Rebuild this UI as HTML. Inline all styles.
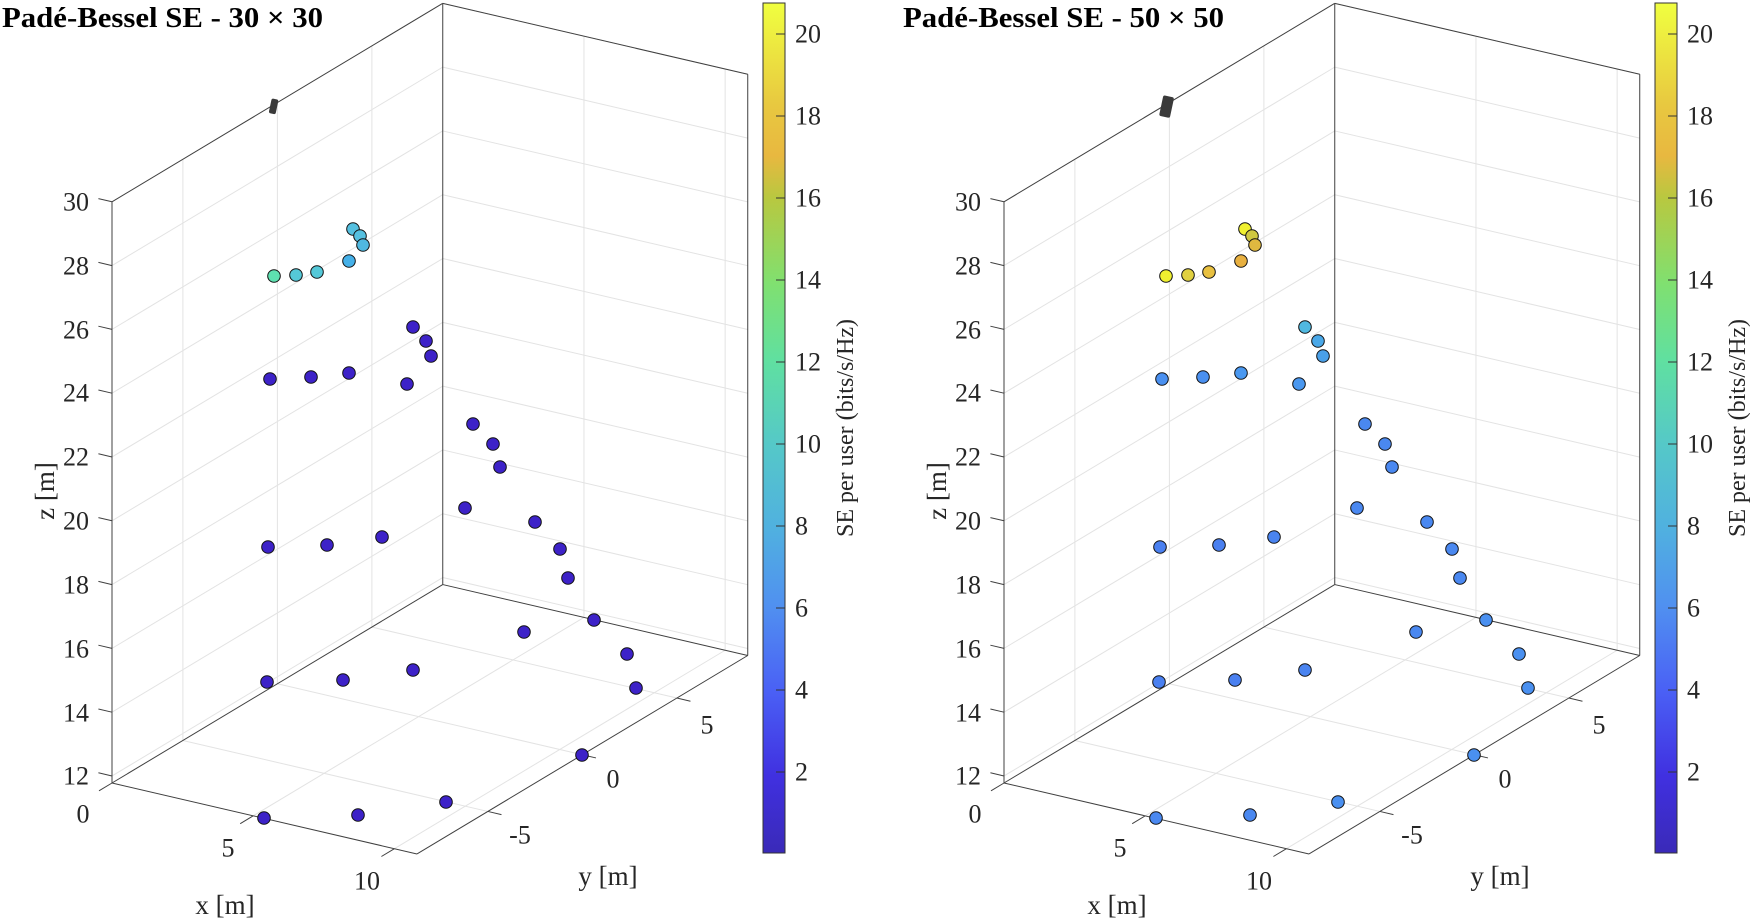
<!DOCTYPE html>
<html><head><meta charset="utf-8"><style>
html,body{margin:0;padding:0;background:#fff;}
svg{display:block;font-family:"Liberation Serif",serif;}
</style></head><body>
<svg id="s" width="1750" height="923" viewBox="0 0 1750 923" xmlns="http://www.w3.org/2000/svg">
<defs>
<linearGradient id="cb" x1="0" y1="1" x2="0" y2="0">
<stop offset="0" stop-color="#3a2ab8"/>
<stop offset="0.09" stop-color="#4030e0"/>
<stop offset="0.19" stop-color="#4a60f5"/>
<stop offset="0.29" stop-color="#5090f0"/>
<stop offset="0.38" stop-color="#50b0e0"/>
<stop offset="0.48" stop-color="#55c8c8"/>
<stop offset="0.58" stop-color="#60e0a0"/>
<stop offset="0.67" stop-color="#80e070"/>
<stop offset="0.77" stop-color="#b8c840"/>
<stop offset="0.82" stop-color="#e8b840"/>
<stop offset="0.88" stop-color="#e8c840"/>
<stop offset="1" stop-color="#f0ff40"/>
</linearGradient>
</defs>
<g id="g0"></g>
<g id="g1" transform="translate(892,0)"></g>
<g font-size="26" fill="#222">
<text x="2" y="27" font-weight="bold" font-size="28" fill="#000" textLength="321" lengthAdjust="spacingAndGlyphs">Padé-Bessel SE - 30 × 30</text>
<text x="903" y="27" font-weight="bold" font-size="28" fill="#000" textLength="321" lengthAdjust="spacingAndGlyphs">Padé-Bessel SE - 50 × 50</text>
</g>
<g id="labels0" font-size="26" fill="#262626">
<g text-anchor="end" dominant-baseline="central">
<text x="89" y="202">30</text><text x="89" y="266">28</text><text x="89" y="330">26</text><text x="89" y="393">24</text><text x="89" y="457">22</text><text x="89" y="521">20</text><text x="89" y="585">18</text><text x="89" y="649">16</text><text x="89" y="713">14</text><text x="89" y="776">12</text>
</g>
<g text-anchor="middle" dominant-baseline="central">
<text x="83" y="814">0</text><text x="228" y="848">5</text><text x="367" y="881">10</text>
<text x="225" y="905" font-size="27">x [m]</text>
<text x="520" y="835">-5</text><text x="613" y="779">0</text><text x="707" y="725">5</text>
<text x="608" y="876" font-size="27">y [m]</text>
<text transform="translate(45,491) rotate(-90)" font-size="27">z [m]</text>
</g>
<g dominant-baseline="central">
<text x="795" y="34">20</text><text x="795" y="116">18</text><text x="795" y="198">16</text><text x="795" y="280">14</text><text x="795" y="362">12</text><text x="795" y="444">10</text><text x="795" y="526">8</text><text x="795" y="608">6</text><text x="795" y="690">4</text><text x="795" y="772">2</text>
</g>
<text transform="translate(846,428) rotate(-90)" text-anchor="middle" dominant-baseline="central" font-size="24">SE per user (bits/s/Hz)</text>
</g>
<g font-size="26" fill="#262626" transform="translate(892,0)">
<g text-anchor="end" dominant-baseline="central">
<text x="89" y="202">30</text><text x="89" y="266">28</text><text x="89" y="330">26</text><text x="89" y="393">24</text><text x="89" y="457">22</text><text x="89" y="521">20</text><text x="89" y="585">18</text><text x="89" y="649">16</text><text x="89" y="713">14</text><text x="89" y="776">12</text>
</g>
<g text-anchor="middle" dominant-baseline="central">
<text x="83" y="814">0</text><text x="228" y="848">5</text><text x="367" y="881">10</text>
<text x="225" y="905" font-size="27">x [m]</text>
<text x="520" y="835">-5</text><text x="613" y="779">0</text><text x="707" y="725">5</text>
<text x="608" y="876" font-size="27">y [m]</text>
<text transform="translate(45,491) rotate(-90)" font-size="27">z [m]</text>
</g>
<g dominant-baseline="central">
<text x="795" y="34">20</text><text x="795" y="116">18</text><text x="795" y="198">16</text><text x="795" y="280">14</text><text x="795" y="362">12</text><text x="795" y="444">10</text><text x="795" y="526">8</text><text x="795" y="608">6</text><text x="795" y="690">4</text><text x="795" y="772">2</text>
</g>
<text transform="translate(846,428) rotate(-90)" text-anchor="middle" dominant-baseline="central" font-size="24">SE per user (bits/s/Hz)</text>
</g>
</svg>
<script>
(function(){
var NS="http://www.w3.org/2000/svg";
var ZMIN=11.78,ZMAX=30,XMAX=10.8,Y0=-8.75,Y1=8.75;
function P(x,y,z){return [112+28.24*x+18.9*(y-Y0), 783+6.57*x-11.34*(y-Y0)-31.9*(z-ZMIN)];}
function el(g,t,a){var e=document.createElementNS(NS,t);for(var k in a)e.setAttribute(k,a[k]);g.appendChild(e);return e;}
function line(g,a,b,c,w){el(g,"line",{x1:a[0],y1:a[1],x2:b[0],y2:b[1],stroke:c,"stroke-width":w||1});}
var dark="#3d22c8";
var pts=[
[274,276,"#5ee0b0","#f0f030"],[296,275,"#55c8d8","#e0d040"],[317,272,"#55c8d8","#e8c040"],[349,261,"#45b0e8","#e8b040"],
[353,229,"#55c0e0","#f0f030"],[360,236,"#55c0e0","#d0c840"],[363,245,"#50b8e0","#e0b840"],
[413,327,dark,"#50b8e0"],[426,341,dark,"#4aa8e8"],[431,356,dark,"#4aa0e8"],[407,384,dark,"#4a98f0"],
[270,379,dark,"#4a90f0"],[311,377,dark,"#4a90f0"],[349,373,dark,"#4a98f0"],
[473,424,dark,"#4a88f0"],[493,444,dark,"#4a88f0"],[500,467,dark,"#4a88f0"],
[268,547,dark,"#4a80f0"],[327,545,dark,"#4a80f0"],[382,537,dark,"#4a84f0"],
[465,508,dark,"#4a88f0"],[535,522,dark,"#4a88f0"],[560,549,dark,"#4a88f0"],[568,578,dark,"#4a88f0"],
[594,620,dark,"#4a90f0"],[524,632,dark,"#4a88f0"],[627,654,dark,"#4a90f0"],[636,688,dark,"#4a90f0"],
[267,682,dark,"#4a80f0"],[343,680,dark,"#4a80f0"],[413,670,dark,"#4a84f0"],
[264,818,dark,"#4a88f0"],[358,815,dark,"#4a88f0"],[446,802,dark,"#4a90f0"],[582,755,dark,"#4a90f0"]
];
[0,1].forEach(function(k){
var g=document.getElementById("g"+k);
var gc="#e3e3e3";
var z;
for(z=12;z<=30;z+=2){line(g,P(0,Y0,z),P(0,Y1,z),gc);line(g,P(0,Y1,z),P(XMAX,Y1,z),gc);}
[-5,0,5].forEach(function(y){line(g,P(0,y,ZMIN),P(0,y,ZMAX),gc);line(g,P(0,y,ZMIN),P(XMAX,y,ZMIN),gc);});
[5,10].forEach(function(x){line(g,P(x,Y1,ZMIN),P(x,Y1,ZMAX),gc);line(g,P(x,Y0,ZMIN),P(x,Y1,ZMIN),gc);});
var bc="#404040";
var A=P(0,Y0,ZMIN),B=P(XMAX,Y0,ZMIN),C=P(XMAX,Y1,ZMIN),D=P(0,Y1,ZMIN);
var At=P(0,Y0,ZMAX),Dt=P(0,Y1,ZMAX),Ct=P(XMAX,Y1,ZMAX);
line(g,A,B,bc);line(g,B,C,bc);line(g,A,D,bc);line(g,D,C,bc);
line(g,A,At,bc);line(g,At,Dt,bc);line(g,Dt,Ct,bc);line(g,D,Dt,bc);line(g,C,Ct,bc);
for(z=12;z<=30;z+=2){var p=P(0,Y0,z);line(g,p,[p[0]-13.6,p[1]-3.2],bc);}
[0,5,10].forEach(function(x){var p=P(x,Y0,ZMIN);line(g,p,[p[0]-13,p[1]+7.8],bc);});
[-5,0,5].forEach(function(y){var p=P(XMAX,y,ZMIN);line(g,p,[p[0]+13.6,p[1]+3.2],bc);});
if(k==0){el(g,"rect",{x:270,y:99,width:7,height:15,rx:2,fill:"#3a3a3a",transform:"rotate(12 274 107)"});}
else{el(g,"rect",{x:269,y:96,width:11,height:21,rx:2,fill:"#3a3a3a",transform:"rotate(12 274 107)"});}
pts.forEach(function(q){el(g,"circle",{cx:q[0],cy:q[1],r:6.3,fill:q[2+k],stroke:"#111","stroke-width":1});});
el(g,"rect",{x:763,y:3,width:22,height:850,fill:"url(#cb)",stroke:"#333","stroke-width":1});
for(var v=2;v<=20;v+=2){var yy=34+(20-v)*41;line(g,[776,yy],[785,yy],"#333");}
});
})();
</script>
</body></html>
